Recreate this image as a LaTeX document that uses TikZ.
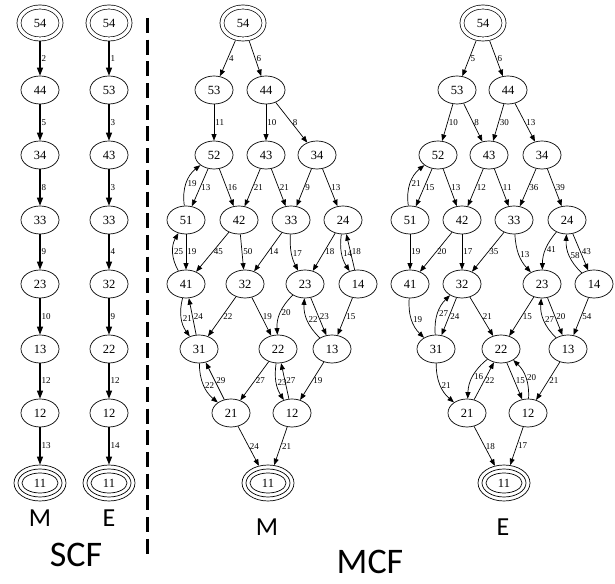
\documentclass[tikz,border=0pt]{standalone}
\usepackage{fontspec}
\setmainfont{Liberation Serif}
\newfontfamily\capfont{Carlito}
\usetikzlibrary{arrows.meta,shapes.geometric}
\begin{document}
\begin{tikzpicture}[x=1pt,y=1pt,
  st/.style={draw, ellipse, line width=0.7pt, minimum width=38pt, minimum height=28pt, inner sep=0pt, font=\fontsize{12.5}{12.5}\selectfont},
  startst/.style={st, double, double distance=3.3pt, minimum width=42pt, minimum height=32pt, outer sep=2.4pt},
  endst/.style={st, minimum width=52pt, minimum height=36pt,
     path picture={\draw[line width=0.7pt] (path picture bounding box.center) ellipse (22pt and 14pt);
                   \draw[line width=0.7pt] (path picture bounding box.center) ellipse (18pt and 10pt);}},
  ed/.style={-{Triangle[length=6.5pt,width=5pt]}, line width=0.7pt},
  sed/.style={-{Triangle[length=8pt,width=6pt]}, line width=1.1pt},
  lab/.style={font=\fontsize{9}{9}\selectfont, anchor=west, inner sep=1pt},
  captext/.style={font=\capfont\fontsize{26}{26}\selectfont, inner sep=0pt},
  bigcaptext/.style={font=\capfont\fontsize{36}{36}\selectfont, inner sep=0pt},
  sepline/.style={line width=3pt, dash pattern=on 15pt off 6.7pt}
]
\useasboundingbox (0,0) rectangle (615,583);

% ---------------- SCF M ----------------
\node[startst] (sm54) at (40,560) {54};
\node[st] (sm44) at (40,493) {44};
\node[st] (sm34) at (40,428) {34};
\node[st] (sm33) at (40,363) {33};
\node[st] (sm23) at (40,299) {23};
\node[st] (sm13) at (40,234) {13};
\node[st] (sm12) at (40,170) {12};
\node[endst] (sm11) at (40,100) {11};
\draw[sed] (sm54) -- node[lab]{2} (sm44);
\draw[sed] (sm44) -- node[lab]{5} (sm34);
\draw[sed] (sm34) -- node[lab]{8} (sm33);
\draw[sed] (sm33) -- node[lab]{9} (sm23);
\draw[sed] (sm23) -- node[lab]{10} (sm13);
\draw[sed] (sm13) -- node[lab]{12} (sm12);
\draw[sed] (sm12) -- node[lab]{13} (sm11);

% ---------------- SCF E ----------------
\node[startst] (se54) at (109,560) {54};
\node[st] (se53) at (109,493) {53};
\node[st] (se43) at (109,428) {43};
\node[st] (se33) at (109,363) {33};
\node[st] (se32) at (109,299) {32};
\node[st] (se22) at (109,234) {22};
\node[st] (se12) at (109,170) {12};
\node[endst] (se11) at (109,100) {11};
\draw[sed] (se54) -- node[lab]{1} (se53);
\draw[sed] (se53) -- node[lab]{3} (se43);
\draw[sed] (se43) -- node[lab]{3} (se33);
\draw[sed] (se33) -- node[lab]{4} (se32);
\draw[sed] (se32) -- node[lab]{9} (se22);
\draw[sed] (se22) -- node[lab]{12} (se12);
\draw[sed] (se12) -- node[lab]{14} (se11);

\node[captext] (lsm) at (40,65) {M};
\node[captext] (lse) at (109,65) {E};
\node[bigcaptext] (lscf) at (76,28) {SCF};

% separator
\coordinate (septop) at (147,565);
\coordinate (sepbot) at (147,23);
\draw[sepline] (septop) -- (sepbot);

% ---------------- MCF M ----------------
\node[startst] (mm54) at (243,560) {54};
\node[st] (mm53) at (214,493) {53};
\node[st] (mm44) at (266,493) {44};
\node[st] (mm52) at (214,428) {52};
\node[st] (mm43) at (266,428) {43};
\node[st] (mm34) at (317,428) {34};
\node[st] (mm51) at (186,363) {51};
\node[st] (mm42) at (239,363) {42};
\node[st] (mm33) at (291,363) {33};
\node[st] (mm24) at (343,363) {24};
\node[st] (mm41) at (186,299) {41};
\node[st] (mm32) at (245,299) {32};
\node[st] (mm23) at (305,299) {23};
\node[st] (mm14) at (358,299) {14};
\node[st] (mm31) at (199,234) {31};
\node[st] (mm22) at (278,234) {22};
\node[st] (mm13) at (332,234) {13};
\node[st] (mm21) at (231,170) {21};
\node[st] (mm12) at (292,170) {12};
\node[endst] (mm11) at (268,100) {11};

\draw[ed] (mm54) -- node[lab]{4} (mm53);
\draw[ed] (mm54) -- node[lab]{6} (mm44);
\draw[ed] (mm53) -- node[lab]{11} (mm52);
\draw[ed] (mm44) -- node[lab]{10} (mm43);
\draw[ed] (mm44) -- node[lab]{8} (mm34);
\draw[ed] (mm52) -- node[lab]{13} (mm51);
\draw[ed] (mm51) to[bend left=30] node[lab]{19} (mm52);
\draw[ed] (mm52) -- node[lab]{16} (mm42);
\draw[ed] (mm43) -- node[lab]{21} (mm42);
\draw[ed] (mm43) -- node[lab]{21} (mm33);
\draw[ed] (mm34) -- node[lab]{9} (mm33);
\draw[ed] (mm34) -- node[lab]{13} (mm24);
\draw[ed] (mm51) -- node[lab]{19} (mm41);
\draw[ed] (mm41) to[bend left=30] node[lab]{25} (mm51);
\draw[ed] (mm42) -- node[lab]{45} (mm41);
\draw[ed] (mm42) -- node[lab]{50} (mm32);
\draw[ed] (mm33) -- node[lab]{14} (mm32);
\draw[ed] (mm33) to[bend right=15] node[lab]{17} (mm23);
\draw[ed] (mm24) -- node[lab]{18} (mm23);
\draw[ed] (mm24) to[bend right=20] node[lab]{14} (mm14);
\draw[ed] (mm14) -- node[lab]{18} (mm24);
\draw[ed] (mm41) to[bend right=25] node[lab]{21} (mm31);
\draw[ed] (mm31) -- node[lab]{24} (mm41);
\draw[ed] (mm32) -- node[lab]{22} (mm31);
\draw[ed] (mm32) -- node[lab]{19} (mm22);
\draw[ed] (mm23) to[bend right=25] node[lab]{20} (mm22);
\draw[ed] (mm23) -- node[lab]{23} (mm13);
\draw[ed] (mm13) to[bend left=25] node[lab]{22} (mm23);
\draw[ed] (mm14) -- node[lab]{15} (mm13);
\draw[ed] (mm31) to[bend right=25] node[lab]{22} (mm21);
\draw[ed] (mm21) -- node[lab]{29} (mm31);
\draw[ed] (mm22) -- node[lab]{27} (mm21);
\draw[ed] (mm22) to[bend right=20] node[lab]{23} (mm12);
\draw[ed] (mm12) -- node[lab]{27} (mm22);
\draw[ed] (mm13) -- node[lab]{19} (mm12);
\draw[ed] (mm21) -- node[lab]{24} (mm11);
\draw[ed] (mm12) -- node[lab]{21} (mm11);

\node[captext] (lmm) at (267,56) {M};

% ---------------- MCF E ----------------
\node[startst] (me54) at (483,560) {54};
\node[st] (me53) at (457,493) {53};
\node[st] (me44) at (508,493) {44};
\node[st] (me52) at (438,428) {52};
\node[st] (me43) at (489,428) {43};
\node[st] (me34) at (542,428) {34};
\node[st] (me51) at (410,363) {51};
\node[st] (me42) at (462,363) {42};
\node[st] (me33) at (514,363) {33};
\node[st] (me24) at (567,363) {24};
\node[st] (me41) at (410,299) {41};
\node[st] (me32) at (462,299) {32};
\node[st] (me23) at (542,299) {23};
\node[st] (me14) at (594,299) {14};
\node[st] (me31) at (436,234) {31};
\node[st] (me22) at (501,234) {22};
\node[st] (me13) at (568,234) {13};
\node[st] (me21) at (467,170) {21};
\node[st] (me12) at (528,170) {12};
\node[endst] (me11) at (504,100) {11};

\draw[ed] (me54) -- node[lab]{5} (me53);
\draw[ed] (me54) -- node[lab]{6} (me44);
\draw[ed] (me53) -- node[lab]{10} (me52);
\draw[ed] (me53) -- node[lab]{8} (me43);
\draw[ed] (me44) -- node[lab]{30} (me43);
\draw[ed] (me44) -- node[lab]{13} (me34);
\draw[ed] (me52) -- node[lab]{15} (me51);
\draw[ed] (me51) to[bend left=30] node[lab]{21} (me52);
\draw[ed] (me52) -- node[lab]{13} (me42);
\draw[ed] (me43) -- node[lab]{12} (me42);
\draw[ed] (me43) -- node[lab]{11} (me33);
\draw[ed] (me34) -- node[lab]{36} (me33);
\draw[ed] (me34) -- node[lab]{39} (me24);
\draw[ed] (me51) -- node[lab]{19} (me41);
\draw[ed] (me42) -- node[lab]{20} (me41);
\draw[ed] (me42) -- node[lab]{17} (me32);
\draw[ed] (me33) -- node[lab]{35} (me32);
\draw[ed] (me33) to[bend right=20] node[lab]{13} (me23);
\draw[ed] (me24) to[bend right=20] node[lab]{41} (me23);
\draw[ed] (me24) -- node[lab]{43} (me14);
\draw[ed] (me14) to[bend left=25] node[lab]{58} (me24);
\draw[ed] (me41) to[bend right=25] node[lab]{19} (me31);
\draw[ed] (me31) to[bend left=25] node[lab]{27} (me32);
\draw[ed] (me32) -- node[lab]{24} (me31);
\draw[ed] (me32) -- node[lab]{21} (me22);
\draw[ed] (me23) -- node[lab]{15} (me22);
\draw[ed] (me23) -- node[lab]{20} (me13);
\draw[ed] (me13) to[bend left=25] node[lab]{27} (me23);
\draw[ed] (me14) -- node[lab]{54} (me13);
\draw[ed] (me31) to[bend right=25] node[lab]{21} (me21);
\draw[ed] (me22) to[bend right=25] node[lab]{16} (me21);
\draw[ed] (me21) -- node[lab]{22} (me22);
\draw[ed] (me22) -- node[lab]{15} (me12);
\draw[ed] (me12) to[bend right=25] node[lab]{20} (me22);
\draw[ed] (me13) -- node[lab]{21} (me12);
\draw[ed] (me21) -- node[lab]{18} (me11);
\draw[ed] (me12) -- node[lab]{17} (me11);

\node[captext] (lme) at (503,56) {E};
\node[bigcaptext] (lmcf) at (370,21) {MCF};
\end{tikzpicture}
\end{document}
